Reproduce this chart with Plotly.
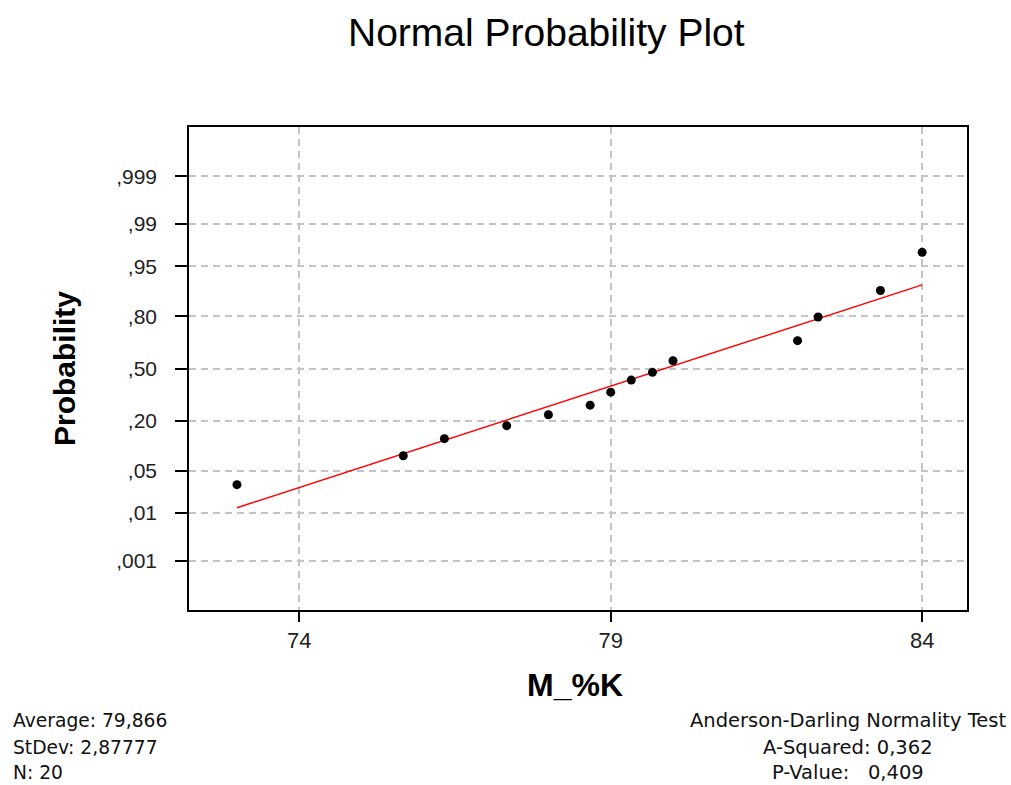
import numpy as np
import plotly.graph_objects as go
from statistics import NormalDist

# Sample values of M_%K (n = 20)
m_k = [73.00, 75.67, 76.33, 77.33, 78.00, 78.67, 79.00, 79.00, 79.33, 79.67,
       80.00, 80.00, 82.00, 82.00, 82.00, 82.33, 82.33, 83.33, 83.33, 84.00]

# Probability axis ticks
prob_ticks = [0.001, 0.01, 0.05, 0.20, 0.50, 0.80, 0.95, 0.99, 0.999]
prob_labels = [",001", ",01", ",05", ",20", ",50", ",80", ",95", ",99", ",999"]

# X axis ticks
x_ticks = [74, 79, 84]
x_labels = ["74", "79", "84"]

# Summary statistics
stat_average = "79,866"
stat_stdev = "2,87777"
stat_n = "20"
ad_asq = "0,362"
ad_pval = "0,409"

nd = NormalDist()
x = np.array(m_k, dtype=float)
n = len(x)

# Average ranks for ties, then Blom plotting positions on the probit scale
order = np.argsort(x, kind="mergesort")
sorted_x = x[order]
ranks = np.empty(n)
i = 0
while i < n:
    j = i
    while j + 1 < n and sorted_x[j + 1] == sorted_x[i]:
        j += 1
    ranks[i:j + 1] = (i + j) / 2 + 1
    i = j + 1
z_all = np.array([nd.inv_cdf((r - 0.375) / (n + 0.25)) for r in ranks])

uniq_x, first_idx = np.unique(sorted_x, return_index=True)
uniq_z = z_all[first_idx]

# Least-squares line of probit score on value
slope, intercept = np.polyfit(sorted_x, z_all, 1)
line_x = np.array([sorted_x.min(), sorted_x.max()])
line_z = intercept + slope * line_x

y_tickvals = [nd.inv_cdf(p) for p in prob_ticks]

fig = go.Figure()
fig.add_trace(go.Scatter(
    x=line_x, y=line_z, mode="lines",
    line=dict(color="#ff0000", width=1.5),
    hoverinfo="skip", showlegend=False,
))
fig.add_trace(go.Scatter(
    x=uniq_x, y=uniq_z, mode="markers",
    marker=dict(color="black", size=9),
    showlegend=False,
))

axis_common = dict(
    showline=True, linecolor="black", linewidth=1.5, mirror=True,
    showgrid=True, gridcolor="#c4c4c4", gridwidth=1.5, griddash="7px,5px",
    zeroline=False, ticks="outside", tickcolor="black", tickwidth=1.5,
)

fig.update_layout(
    width=1011, height=785,
    margin=dict(l=189, r=44, t=127, b=175),
    paper_bgcolor="white", plot_bgcolor="white",
    xaxis=dict(range=[72.23, 84.72], tickvals=x_ticks, ticktext=x_labels,
               ticklen=10,
               tickfont=dict(family="Liberation Sans, Arial, sans-serif", size=22, color="#222"),
               **axis_common),
    yaxis=dict(range=[-3.885, 3.885], tickvals=y_tickvals, ticktext=prob_labels,
               ticklen=12, ticklabelstandoff=14,
               tickfont=dict(family="Liberation Sans, Arial, sans-serif", size=21, color="#222"),
               **axis_common),
)

font_main = "Liberation Sans, Arial, sans-serif"
font_small = "DejaVu Sans, sans-serif"

annotations = [
    dict(text="Normal Probability Plot", x=0.459, y=1.196,
         font=dict(family=font_main, size=39, color="black")),
    dict(text="<b>M_%K</b>", x=0.496, y=-0.155,
         font=dict(family=font_main, size=32, color="black")),
    dict(text="<b>Probability</b>", x=-0.160, y=0.5, textangle=-90,
         font=dict(family=font_main, size=30, color="black")),
]
left_lines = [f"Average: {stat_average}", f"StDev: {stat_stdev}", f"N: {stat_n}"]
right_lines = ["Anderson-Darling Normality Test", f"A-Squared: {ad_asq}",
               f"P-Value:\u00a0\u00a0\u00a0{ad_pval}"]
line_py = [721, 747, 772]
for txt, py in zip(left_lines, line_py):
    annotations.append(dict(text=txt, x=(11 - 189) / 778, y=(610 - py) / 483,
                            xanchor="left",
                            font=dict(family=font_small, size=18.7, color="#111")))
for txt, py in zip(right_lines, line_py):
    annotations.append(dict(text=txt, x=(848 - 189) / 778, y=(610 - py) / 483,
                            xanchor="center",
                            font=dict(family=font_small, size=19.5, color="#111")))
for a in annotations:
    a.setdefault("xanchor", "center")
    a.update(xref="paper", yref="paper", yanchor="middle", showarrow=False)
fig.update_layout(annotations=annotations)

fig.write_html("out.html")
